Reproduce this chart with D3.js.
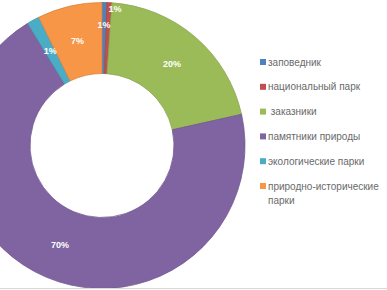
<!DOCTYPE html>
<html><head><meta charset="utf-8">
<script src="https://cdn.jsdelivr.net/npm/d3@7"></script>
<style>html,body{margin:0;padding:0;background:#fff;overflow:hidden}</style>
</head><body>
<svg id="c" width="387" height="290"></svg>
<script>
const categories = ["заповедник", "национальный парк", " заказники", "памятники природы", "экологические парки", "природно-исторические парки"];
const values = [0.55, 0.55, 20.4, 69.8, 1.4, 7.3];
const colors = ["#4F81BD", "#C0504D", "#9BBB59", "#8064A2", "#4BACC6", "#F79646"];

const svg = d3.select("#c");
const cx = 102, cy = 145.5, rOuter = 143, rInner = 72;

const pie = d3.pie().sort(null).value(d => d)(values);
const arc = d3.arc().innerRadius(rInner).outerRadius(rOuter);
const g = svg.append("g").attr("transform", `translate(${cx},${cy})`);

g.selectAll("path").data(pie).join("path")
  .attr("d", arc)
  .attr("fill", (d, i) => colors[i])
  .attr("stroke", (d, i) => d3.color(colors[i]).darker(0.35))
  .attr("stroke-width", 0.8);

// label placement: centroid, small adjacent slices pushed outward to avoid overlap
const labelAdjust = {0: {r: 121, dx: 0}, 1: {r: 137, dx: 6}};
const total = d3.sum(values);
g.selectAll("text.lbl").data(pie).join("text")
  .attr("class", "lbl")
  .attr("transform", (d, i) => {
    const a = (d.startAngle + d.endAngle) / 2;
    const adj = labelAdjust[i];
    const r = adj ? adj.r : (rInner + rOuter) / 2;
    const x = Math.sin(a) * r + (adj ? adj.dx : 0), y = -Math.cos(a) * r;
    return `translate(${x},${y})`;
  })
  .attr("text-anchor", "middle")
  .attr("dy", "0.35em")
  .attr("font-family", "Liberation Sans, Arial, sans-serif")
  .attr("font-size", 9)
  .attr("font-weight", "bold")
  .attr("fill", "#fff")
  .text(d => Math.round(d.value / total * 100) + "%");

// legend
const legendY = d3.scalePoint().domain(d3.range(categories.length)).range([62, 186]);
const lg = svg.append("g");
categories.forEach((c, i) => {
  const y = legendY(i);
  lg.append("rect").attr("x", 260).attr("y", y - 3).attr("width", 6).attr("height", 6).attr("fill", colors[i]);
  const words = c === "природно-исторические парки" ? ["природно-исторические", "парки"] : [c];
  const t = lg.append("text").attr("x", 268).attr("y", y)
    .attr("font-family", "Liberation Sans, Arial, sans-serif")
    .attr("font-size", 10).attr("fill", "#6a6a6a")
    .attr("xml:space", "preserve");
  words.forEach((w, k) => {
    t.append("tspan").attr("x", 268).attr("dy", k === 0 ? "0.35em" : "1.45em").text(w);
  });
});

// bottom border line
svg.append("line").attr("x1", 0).attr("x2", 387).attr("y1", 288.5).attr("y2", 288.5)
  .attr("stroke", "#d9d9d9").attr("stroke-width", 1);
</script>
</body></html>
